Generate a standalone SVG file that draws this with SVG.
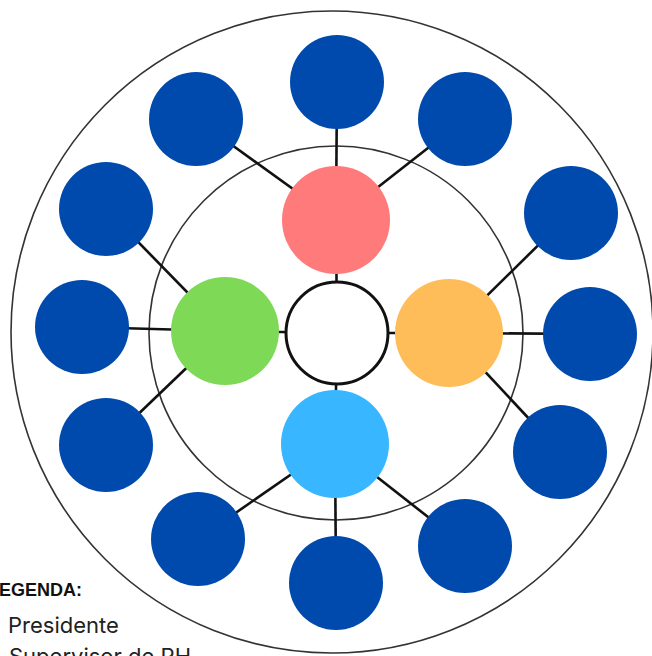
<svg xmlns="http://www.w3.org/2000/svg" width="652" height="656" viewBox="0 0 652 656">
<style>
.ring{fill:none;stroke:#333;stroke-width:1.6}
.link{stroke:#111;stroke-width:2.6}
.team{fill:#004AAD}
.legend{font-family:Inter,"Liberation Sans",Arial,sans-serif;fill:#222}
.title{font-family:"Liberation Sans",Arial,sans-serif;fill:#111;font-weight:bold}
</style>
<rect width="652" height="656" fill="#fff"/>
<circle class="ring" cx="332" cy="332" r="321"/>
<circle class="ring" cx="336" cy="333" r="187"/>
<g id="connectors">
<line class="link" x1="337" y1="333" x2="336" y2="220"/>
<line class="link" x1="337" y1="333" x2="225" y2="331"/>
<line class="link" x1="337" y1="333" x2="449" y2="333"/>
<line class="link" x1="337" y1="333" x2="335" y2="444"/>
<line class="link" x1="336" y1="220" x2="337" y2="82"/>
<line class="link" x1="336" y1="220" x2="196" y2="119"/>
<line class="link" x1="336" y1="220" x2="465" y2="119"/>
<line class="link" x1="225" y1="331" x2="106" y2="209"/>
<line class="link" x1="225" y1="331" x2="82" y2="327"/>
<line class="link" x1="225" y1="331" x2="106" y2="445"/>
<line class="link" x1="449" y1="333" x2="571" y2="213"/>
<line class="link" x1="449" y1="333" x2="590" y2="334"/>
<line class="link" x1="449" y1="333" x2="560" y2="452"/>
<line class="link" x1="335" y1="444" x2="198" y2="539"/>
<line class="link" x1="335" y1="444" x2="336" y2="583"/>
<line class="link" x1="335" y1="444" x2="465" y2="546"/>
</g>
<g id="center"><circle cx="337" cy="333" r="51" fill="#fff" stroke="#111" stroke-width="3"/></g>
<g id="president"><circle cx="336" cy="220" r="54" fill="#FF7B7B"/></g>
<g id="green"><circle cx="225" cy="331" r="54" fill="#7ED957"/></g>
<g id="orange"><circle cx="449" cy="333" r="54" fill="#FFBD59"/></g>
<g id="lightblue"><circle cx="335" cy="444" r="54" fill="#38B6FF"/></g>
<g id="n1"><circle class="team" cx="337" cy="82" r="47"/></g>
<g id="n2"><circle class="team" cx="196" cy="119" r="47"/></g>
<g id="n3"><circle class="team" cx="465" cy="119" r="47"/></g>
<g id="n4"><circle class="team" cx="106" cy="209" r="47"/></g>
<g id="n5"><circle class="team" cx="571" cy="213" r="47"/></g>
<g id="n6"><circle class="team" cx="82" cy="327" r="47"/></g>
<g id="n7"><circle class="team" cx="590" cy="334" r="47"/></g>
<g id="n8"><circle class="team" cx="106" cy="445" r="47"/></g>
<g id="n9"><circle class="team" cx="560" cy="452" r="47"/></g>
<g id="n10"><circle class="team" cx="198" cy="539" r="47"/></g>
<g id="n11"><circle class="team" cx="336" cy="583" r="47"/></g>
<g id="n12"><circle class="team" cx="465" cy="546" r="47"/></g>
<g id="legend">
<text class="title" x="-12" y="596" font-size="18">LEGENDA:</text>
<text class="legend" x="8" y="633" font-size="22">Presidente</text>
<text class="legend" x="9" y="664" font-size="22">Supervisor de RH</text>
</g>
</svg>
